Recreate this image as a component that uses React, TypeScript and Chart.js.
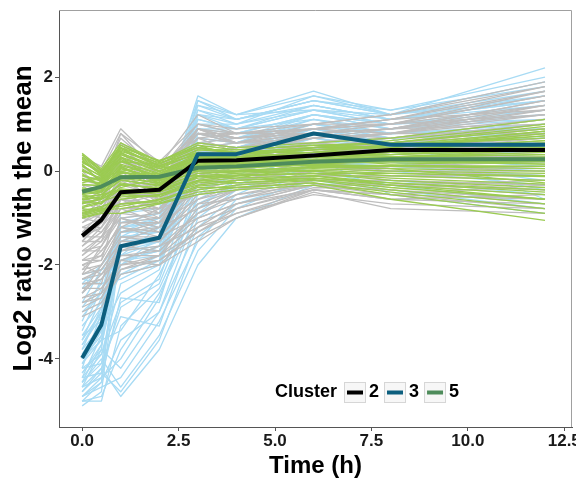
import React, { useEffect, useRef } from "react";
import { Chart, registerables } from "chart.js";

Chart.register(...registerables);

// ---- data ----
const times = [0, 0.5, 1, 2, 3, 4, 6, 8, 12];
const xTicks = [0, 2.5, 5, 7.5, 10, 12.5];
const yTicks = [-4, -2, 0, 2];
const clusterNames = ["2", "3", "5"];

const mean2 = [-1.38, -1.04, -0.45, -0.4, 0.22, 0.23, 0.33, 0.45, 0.45];
const mean3 = [-3.98, -3.27, -1.6, -1.42, 0.36, 0.36, 0.8, 0.56, 0.56];
const mean5 = [-0.44, -0.33, -0.13, -0.12, 0.07, 0.1, 0.2, 0.25, 0.25];

const genes2 = [
  [0.3, 0.1, 0.9, 0.1, 1.2, 0.8, 1.0, 1.2, 1.9],
  [0.1, -0.2, 0.7, 0.0, 1.0, 0.8, 0.9, 1.1, 1.7],
  [-0.2, -0.3, 0.5, -0.1, 0.9, 0.7, 0.9, 1.0, 1.6],
  [-0.4, -0.5, 0.4, -0.2, 0.8, 0.6, 0.8, 0.9, 1.5],
  [-0.5, -0.3, 0.2, 0.1, 0.7, 0.8, 0.8, 0.9, 1.4],
  [-0.7, -0.6, 0.1, -0.3, 0.7, 0.6, 0.9, 1.1, 1.3],
  [-0.8, -0.5, 0.0, -0.2, 0.6, 0.5, 0.7, 0.8, 1.2],
  [-0.9, -0.8, -0.1, -0.4, 0.5, 0.6, 0.6, 0.8, 1.1],
  [-1.0, -0.7, -0.2, -0.1, 0.4, 0.4, 0.8, 0.7, 1.0],
  [-1.1, -0.9, -0.3, -0.5, 0.3, 0.5, 0.5, 0.7, 0.9],
  [-1.2, -1.0, -0.3, -0.3, 0.5, 0.3, 0.4, 0.6, 0.8],
  [-1.3, -0.9, -0.4, -0.6, 0.2, 0.2, 0.6, 0.5, 0.7],
  [-1.4, -1.2, -0.5, -0.4, 0.1, 0.3, 0.3, 0.5, 0.6],
  [-1.5, -1.1, -0.6, -0.7, 0.3, 0.1, 0.2, 0.4, 0.5],
  [-1.6, -1.3, -0.7, -0.5, 0.0, 0.0, 0.4, 0.3, 0.4],
  [-1.7, -1.4, -0.8, -0.8, -0.1, 0.2, 0.1, 0.3, 0.3],
  [-1.8, -1.5, -0.9, -0.6, -0.2, -0.1, 0.2, 0.2, 0.2],
  [-1.9, -1.6, -1.0, -0.9, -0.3, 0.0, 0.0, 0.1, 0.1],
  [-2.0, -1.8, -1.1, -1.0, -0.4, -0.2, 0.1, 0.0, 0.0],
  [-2.1, -1.7, -1.2, -0.8, -0.5, -0.3, -0.1, -0.1, -0.2],
  [-2.2, -2.0, -1.3, -1.1, -0.6, -0.4, -0.2, -0.2, -0.3],
  [-2.3, -2.1, -1.5, -1.2, -0.8, -0.5, -0.3, -0.3, -0.5],
  [-2.5, -2.3, -1.7, -1.4, -1.0, -0.7, -0.4, -0.5, -0.6],
  [-2.7, -2.5, -1.9, -1.6, -1.2, -0.9, -0.5, -0.7, -0.8],
  [-3.0, -2.8, -2.2, -2.0, -1.5, -1.0, -0.45, -0.8, -0.9],
  [0.0, -0.4, 0.8, 0.2, 1.0, 0.9, 1.0, 1.2, 1.8],
  [-0.3, -0.6, 0.6, -0.4, 0.9, 0.6, 1.0, 1.0, 1.2],
  [-0.6, -0.9, 0.3, -0.5, 0.6, 0.7, 0.8, 0.9, 1.0],
  [-1.0, -1.1, -0.1, -0.7, 0.4, 0.2, 0.5, 0.4, 0.6],
  [-1.5, -1.5, -0.4, -0.9, 0.2, 0.4, 0.3, 0.5, 0.4],
  [-1.9, -1.9, -0.6, -1.0, -0.1, 0.1, 0.2, 0.0, -0.1],
  [-2.4, -2.4, -1.0, -1.3, -0.3, -0.2, 0.0, -0.2, -0.4],
  [-2.8, -2.6, -1.4, -1.5, -0.7, -0.6, -0.3, -0.4, -0.7],
  [-2.6, -2.2, -1.8, -1.8, -1.3, -0.8, -0.4, -0.6, -0.5],
  [-1.2, -1.3, -0.8, -1.1, 0.0, -0.2, 0.1, 0.3, 0.2],
  [-0.8, -1.0, -0.5, -0.8, 0.2, 0.1, 0.4, 0.6, 0.5],
  [-2.0, -2.2, -1.6, -1.7, -0.9, -0.6, -0.2, -0.3, -0.2],
  [-0.5, -0.8, -0.2, -0.6, 0.5, 0.4, 0.7, 0.8, 0.8],
  [-1.7, -1.7, -1.2, -1.4, -0.5, -0.4, -0.1, 0.1, 0.0],
  [-2.9, -2.7, -2.0, -1.9, -1.4, -1.0, -0.4, -0.5, -0.3],
  [0.2, 0.0, 0.8, -0.1, 0.9, 0.8, 0.9, 1.1, 1.8],
  [-0.1, -0.3, 0.6, 0.1, 0.8, 0.7, 0.9, 1.0, 1.7],
  [-0.3, -0.4, 0.4, -0.3, 0.9, 0.7, 0.8, 1.0, 1.6],
  [-0.6, -0.7, 0.2, -0.2, 0.8, 0.8, 0.9, 1.0, 1.4],
  [-0.7, -0.4, 0.3, -0.4, 0.9, 0.6, 0.7, 0.9, 1.3],
  [-0.9, -1.0, 0.0, -0.6, 0.6, 0.5, 0.8, 0.9, 1.2],
  [-1.1, -0.8, -0.2, -0.3, 0.7, 0.4, 0.6, 0.7, 1.1],
  [-1.2, -1.2, -0.4, -0.7, 0.3, 0.4, 0.5, 0.6, 1.0],
  [-1.3, -1.1, -0.5, -0.5, 0.4, 0.3, 0.5, 0.6, 0.9],
  [-1.4, -1.4, -0.6, -0.8, 0.1, 0.2, 0.4, 0.5, 0.8],
  [-1.6, -1.2, -0.7, -0.9, 0.2, 0.1, 0.3, 0.4, 0.7],
  [-1.7, -1.6, -0.9, -1.0, 0.0, 0.0, 0.3, 0.4, 0.6],
  [-1.8, -1.4, -1.0, -1.2, -0.2, 0.1, 0.2, 0.2, 0.5],
  [-1.9, -1.8, -1.1, -1.1, -0.3, -0.1, 0.1, 0.3, 0.3],
  [-2.0, -1.9, -1.2, -1.3, -0.4, -0.2, 0.0, 0.1, 0.2],
  [-2.1, -2.0, -1.4, -1.4, -0.6, -0.3, -0.1, 0.0, 0.1],
  [-2.2, -2.1, -1.5, -1.5, -0.7, -0.4, -0.1, -0.1, -0.1],
  [-2.3, -2.2, -1.7, -1.6, -0.9, -0.5, -0.2, -0.2, -0.3],
  [-2.4, -2.3, -1.8, -1.7, -1.0, -0.7, -0.3, -0.3, -0.4],
  [-2.5, -2.5, -2.0, -1.8, -1.1, -0.8, -0.35, -0.4, -0.6],
  [-2.7, -2.6, -2.1, -1.9, -1.3, -0.9, -0.4, -0.6, -0.7],
  [-2.8, -2.7, -1.9, -2.0, -1.2, -0.7, -0.3, -0.5, -0.8],
  [-0.2, -0.1, 0.3, -0.2, 0.8, 0.6, 0.8, 0.9, 1.5],
  [-1.0, -0.6, 0.1, 0.0, 0.9, 0.7, 0.9, 0.8, 1.4],
  [-1.5, -1.0, -0.3, -0.2, 0.6, 0.5, 0.7, 0.8, 1.3],
  [-2.2, -1.6, -0.8, -0.7, 0.3, 0.3, 0.6, 0.7, 1.1],
  [-2.6, -2.0, -1.3, -1.2, 0.1, 0.2, 0.5, 0.6, 0.9],
  [-3.1, -2.9, -2.1, -1.8, -0.8, -0.4, 0.0, 0.1, 0.3],
];

const genes3 = [
  [-4.9, -4.5, -1.2, -1.0, 1.6, 1.2, 1.7, 1.2, 2.2],
  [-4.6, -3.8, -1.0, -0.9, 1.4, 1.1, 1.5, 1.3, 1.8],
  [-4.4, -3.5, -1.3, -1.2, 1.2, 0.9, 1.4, 1.1, 1.5],
  [-4.2, -3.0, -1.5, -1.1, 1.0, 1.0, 1.3, 1.0, 1.2],
  [-4.0, -3.3, -1.4, -1.3, 0.9, 0.8, 1.2, 0.9, 1.1],
  [-3.8, -2.9, -1.6, -1.4, 0.8, 0.7, 1.1, 0.8, 0.9],
  [-3.6, -2.7, -1.8, -1.2, 0.7, 0.6, 1.0, 0.7, 0.8],
  [-3.4, -2.5, -1.7, -1.5, 0.6, 0.5, 0.9, 0.6, 0.6],
  [-3.2, -2.3, -1.9, -1.6, 0.5, 0.4, 0.8, 0.5, 0.5],
  [-3.0, -2.6, -2.0, -1.4, 0.3, 0.3, 0.7, 0.4, 0.3],
  [-2.8, -2.1, -1.6, -1.7, 0.2, 0.2, 0.6, 0.3, 0.2],
  [-2.5, -2.0, -1.3, -1.3, 0.0, 0.1, 0.5, 0.2, 0.0],
  [-2.3, -2.4, -2.2, -1.8, -0.3, 0.0, 0.4, 0.2, -0.2],
  [-4.7, -4.2, -4.8, -3.8, -2.0, -1.0, -0.3, -0.2, -0.5],
  [-4.5, -4.0, -4.6, -3.5, -1.7, -0.8, -0.1, 0.0, -0.3],
  [-4.8, -4.6, -4.4, -3.2, -1.5, -0.6, 0.0, -0.3, -0.7],
  [-4.3, -3.8, -4.2, -3.0, -1.2, -0.5, 0.2, 0.1, -0.1],
  [-4.9, -4.8, -3.8, -2.6, -0.9, -0.3, 0.3, -0.5, -0.9],
  [-4.1, -3.6, -3.4, -2.2, -0.6, -0.2, 0.4, 0.3, 0.1],
  [-4.6, -4.2, -2.9, -2.4, -0.4, -0.1, 0.6, 0.4, 0.4],
  [-4.4, -3.9, -2.4, -2.0, 0.1, 0.2, 0.8, 0.6, 0.7],
  [-3.9, -3.4, -2.6, -2.1, 0.4, 0.4, 0.9, 0.7, 1.0],
  [-3.7, -3.1, -2.1, -1.9, 0.8, 0.6, 1.2, 0.9, 1.3],
  [-4.0, -3.6, -1.1, -1.0, 1.3, 1.0, 1.6, 1.2, 1.6],
  [-3.5, -3.2, -0.9, -0.8, 1.5, 1.1, 1.4, 1.1, 1.4],
  [-4.8, -4.4, -2.7, -2.8, -0.2, 0.3, 0.7, 0.5, 0.6],
  [-4.2, -4.1, -3.1, -3.3, -1.0, -0.4, 0.1, 0.2, 0.2],
  [-3.3, -2.8, -1.4, -1.0, 1.1, 0.9, 1.3, 1.0, 1.1],
  [-2.6, -2.2, -1.8, -1.5, 0.6, 0.5, 1.0, 0.8, 0.9],
  [-4.5, -3.7, -1.9, -1.7, 0.3, 0.4, 0.9, 0.6, 0.4],
  [-5.0, -4.7, -1.6, -1.5, 1.5, 1.2, 1.6, 1.3, 2.0],
  [-4.7, -4.3, -1.4, -1.3, 1.3, 1.1, 1.5, 1.2, 1.7],
  [-4.5, -4.1, -1.7, -1.6, 1.2, 1.0, 1.4, 1.1, 1.6],
  [-4.3, -3.7, -1.2, -1.1, 1.1, 0.9, 1.3, 1.1, 1.5],
  [-4.1, -3.4, -1.9, -1.8, 1.0, 0.8, 1.2, 1.0, 1.4],
  [-3.9, -3.2, -1.5, -1.2, 0.9, 0.9, 1.1, 0.9, 1.2],
  [-3.7, -3.0, -2.2, -2.0, 0.7, 0.6, 1.0, 0.8, 1.0],
  [-3.5, -2.9, -1.2, -1.1, 0.6, 0.7, 1.0, 0.7, 0.8],
  [-3.1, -2.6, -1.0, -1.2, 0.4, 0.5, 0.9, 0.6, 0.7],
  [-2.9, -2.4, -2.3, -1.9, 0.2, 0.3, 0.8, 0.5, 0.5],
  [-4.8, -4.5, -3.6, -3.0, -0.8, -0.2, 0.4, 0.3, 0.2],
  [-4.6, -4.4, -4.0, -2.7, -0.5, 0.0, 0.5, 0.4, 0.3],
  [-4.4, -4.3, -4.7, -3.6, -1.4, -0.7, -0.2, -0.4, -0.8],
  [-4.9, -4.9, -3.3, -2.5, -0.7, -0.3, 0.3, 0.2, -0.4],
  [-4.2, -3.9, -2.8, -2.3, 0.0, 0.2, 0.7, 0.5, 0.5],
  [-4.0, -3.5, -2.0, -1.6, 0.5, 0.6, 1.1, 0.8, 0.9],
  [-3.8, -3.3, -1.3, -1.0, 1.2, 1.1, 1.5, 1.2, 1.5],
  [-3.6, -3.0, -1.1, -0.9, 1.4, 1.2, 1.3, 1.2, 1.9],
  [-2.4, -2.0, -1.5, -1.4, 0.8, 0.7, 1.2, 1.0, 1.3],
  [-2.2, -2.1, -1.9, -1.7, 0.4, 0.5, 0.9, 0.7, -0.6],
];

const genes5 = [
  [0.38, 0.05, 0.6, 0.2, 0.6, 0.5, 0.6, 0.7, 1.1],
  [0.3, 0.0, 0.5, 0.23, 0.5, 0.4, 0.5, 0.6, 0.9],
  [0.2, -0.05, 0.45, 0.1, 0.45, 0.45, 0.55, 0.5, 0.8],
  [0.1, -0.1, 0.35, 0.05, 0.4, 0.35, 0.45, 0.55, 0.7],
  [0.0, -0.15, 0.3, 0.0, 0.35, 0.3, 0.4, 0.45, 0.6],
  [-0.1, -0.2, 0.2, -0.05, 0.3, 0.3, 0.35, 0.4, 0.5],
  [-0.2, -0.25, 0.15, -0.1, 0.25, 0.25, 0.3, 0.35, 0.45],
  [-0.3, -0.3, 0.05, -0.15, 0.2, 0.2, 0.3, 0.3, 0.4],
  [-0.4, -0.35, 0.0, -0.2, 0.15, 0.15, 0.25, 0.25, 0.3],
  [-0.45, -0.4, -0.1, -0.1, 0.1, 0.1, 0.2, 0.2, 0.25],
  [-0.5, -0.45, -0.15, -0.25, 0.05, 0.05, 0.15, 0.2, 0.15],
  [-0.55, -0.5, -0.2, -0.3, 0.0, 0.0, 0.1, 0.1, 0.05],
  [-0.6, -0.55, -0.3, -0.35, -0.05, 0.0, 0.05, 0.0, -0.05],
  [-0.7, -0.6, -0.4, -0.4, -0.1, -0.05, 0.0, -0.1, -0.2],
  [-0.75, -0.65, -0.5, -0.45, -0.2, -0.1, -0.05, -0.2, -0.35],
  [-0.85, -0.75, -0.6, -0.5, -0.3, -0.2, -0.1, -0.3, -0.5],
  [-0.9, -0.8, -0.75, -0.6, -0.4, -0.3, -0.2, -0.4, -0.7],
  [-1.0, -0.9, -0.9, -0.7, -0.5, -0.4, -0.3, -0.6, -1.05],
  [0.25, -0.1, 0.55, 0.15, 0.5, 0.4, 0.45, 0.55, 0.75],
  [0.05, -0.2, 0.4, 0.0, 0.3, 0.25, 0.35, 0.35, 0.55],
  [-0.15, -0.3, 0.25, -0.2, 0.2, 0.15, 0.2, 0.3, 0.35],
  [-0.35, -0.45, 0.1, -0.25, 0.1, 0.1, 0.15, 0.1, 0.1],
  [-0.65, -0.7, -0.25, -0.4, -0.15, -0.1, -0.05, -0.05, -0.1],
  [-0.8, -0.85, -0.5, -0.55, -0.25, -0.2, -0.15, -0.25, -0.4],
  [-0.95, -0.85, -0.7, -0.65, -0.35, -0.35, -0.25, -0.45, -0.8],
  [0.15, -0.25, 0.3, -0.3, 0.15, 0.2, 0.3, 0.45, 0.65],
  [-0.25, -0.15, 0.0, 0.1, 0.0, 0.25, 0.25, 0.15, 0.2],
  [-0.5, -0.6, -0.35, -0.15, -0.1, -0.15, 0.1, 0.05, -0.25],
  [0.35, 0.02, 0.2, 0.15, 0.55, 0.3, 0.5, 0.65, 1.0],
  [-0.05, -0.35, -0.05, -0.05, 0.25, 0.2, 0.25, 0.25, 0.15],
  [0.35, 0.0, 0.55, 0.2, 0.55, 0.45, 0.55, 0.6, 0.95],
  [0.28, -0.05, 0.5, 0.1, 0.45, 0.4, 0.5, 0.5, 0.85],
  [0.22, -0.08, 0.42, 0.18, 0.4, 0.35, 0.45, 0.5, 0.75],
  [0.12, -0.12, 0.38, 0.08, 0.38, 0.3, 0.4, 0.45, 0.65],
  [0.02, -0.18, 0.28, -0.02, 0.32, 0.28, 0.35, 0.4, 0.55],
  [-0.08, -0.22, 0.22, -0.08, 0.28, 0.22, 0.3, 0.35, 0.45],
  [-0.18, -0.28, 0.12, -0.12, 0.22, 0.18, 0.25, 0.3, 0.35],
  [-0.28, -0.32, 0.08, -0.18, 0.18, 0.15, 0.22, 0.25, 0.28],
  [-0.38, -0.38, -0.02, -0.22, 0.12, 0.12, 0.18, 0.2, 0.2],
  [-0.48, -0.42, -0.08, -0.28, 0.08, 0.08, 0.12, 0.12, 0.1],
  [-0.58, -0.5, -0.18, -0.32, 0.02, 0.02, 0.08, 0.05, 0.0],
  [-0.68, -0.58, -0.28, -0.38, -0.05, -0.02, 0.02, -0.05, -0.12],
  [-0.78, -0.68, -0.38, -0.45, -0.12, -0.08, -0.05, -0.15, -0.28],
  [-0.88, -0.78, -0.55, -0.52, -0.22, -0.15, -0.1, -0.25, -0.45],
  [-0.98, -0.88, -0.7, -0.62, -0.32, -0.25, -0.18, -0.35, -0.6],
  [-0.92, -0.82, -0.8, -0.68, -0.45, -0.35, -0.25, -0.5, -0.9],
  [-0.4, -0.5, -0.4, -0.5, -0.2, -0.25, -0.15, -0.3, -0.6],
  [0.18, -0.02, 0.48, 0.12, 0.35, 0.4, 0.4, 0.55, 0.85],
  [-0.2, -0.15, 0.35, 0.05, 0.2, 0.3, 0.3, 0.4, 0.5],
  [-0.62, -0.55, 0.05, -0.2, 0.05, 0.1, 0.2, 0.3, 0.45],
];

// ---- styles ----
const FONT = '"Liberation Sans", Arial, Helvetica, sans-serif';
const thinColors = ["#bebebe", "#a8dbf4", "#9bcb52"];
const meanColors = ["#000000", "#0d5f7e", "#4e8c5b"];

const toPts = (vals: number[]) => times.map((t, i) => ({ x: t, y: vals[i] }));

const framePlugin = {
  id: "frame",
  beforeDatasetsDraw(chart: any) {
    const { ctx, chartArea } = chart;
    const { left, top, right, bottom } = chartArea;
    ctx.save();
    ctx.strokeStyle = "#a0a0a0";
    ctx.lineWidth = 1;
    ctx.beginPath();
    ctx.moveTo(left, top + 0.5);
    ctx.lineTo(right - 0.5, top + 0.5);
    ctx.lineTo(right - 0.5, bottom);
    ctx.stroke();
    ctx.restore();
  },
};

const legendPlugin = {
  id: "clusterLegend",
  afterDraw(chart: any) {
    const ctx = chart.ctx;
    ctx.save();
    ctx.font = `bold 18px ${FONT}`;
    ctx.textBaseline = "middle";
    ctx.textAlign = "left";
    const cy = 392;
    let x = 275;
    ctx.fillStyle = "#000";
    ctx.fillText("Cluster", x, cy);
    x += ctx.measureText("Cluster").width + 7;
    clusterNames.forEach((name, i) => {
      ctx.fillStyle = "#f7f7f7";
      ctx.fillRect(x, cy - 10, 22, 21);
      ctx.strokeStyle = "#d6d6d6";
      ctx.lineWidth = 1;
      ctx.strokeRect(x + 0.5, cy - 9.5, 21, 20);
      ctx.strokeStyle = meanColors[i];
      ctx.lineWidth = 4;
      ctx.beginPath();
      ctx.moveTo(x + 3, cy + 0.5);
      ctx.lineTo(x + 19, cy + 0.5);
      ctx.stroke();
      x += 22 + 3;
      ctx.fillStyle = "#000";
      ctx.fillText(name, x, cy);
      x += ctx.measureText(name).width + 5;
    });
    ctx.restore();
  },
};

export default function App() {
  const canvasRef = useRef<HTMLCanvasElement | null>(null);

  useEffect(() => {
    const canvas = canvasRef.current;
    if (!canvas) return;

    const thin = (arr: number[][], color: string, order: number) =>
      arr.map((v) => ({
        data: toPts(v),
        borderColor: color,
        borderWidth: 1.3,
        pointRadius: 0,
        fill: false,
        order,
      }));

    // lower order is drawn on top: blue thin at the bottom, then gray, then green
    const datasets: any[] = [
      ...thin(genes3, thinColors[1], 5),
      ...thin(genes2, thinColors[0], 4),
      ...thin(genes5, thinColors[2], 3),
      { data: toPts(mean5), borderColor: meanColors[2], borderWidth: 4, pointRadius: 0, fill: false, order: 2 },
      { data: toPts(mean2), borderColor: meanColors[0], borderWidth: 4, pointRadius: 0, fill: false, order: 1 },
      { data: toPts(mean3), borderColor: meanColors[1], borderWidth: 4, pointRadius: 0, fill: false, order: 0 },
    ];

    const chart = new Chart(canvas, {
      type: "line",
      data: { datasets },
      options: {
        animation: false,
        responsive: false,
        devicePixelRatio: 1,
        layout: { padding: { top: 10, right: 4, left: 0, bottom: 0 } },
        plugins: { legend: { display: false }, tooltip: { enabled: false } },
        elements: { line: { tension: 0, borderCapStyle: "butt", borderJoinStyle: "round" } },
        scales: {
          x: {
            type: "linear",
            min: -0.6,
            max: 12.7,
            afterBuildTicks: (s: any) => {
              s.ticks = xTicks.map((v) => ({ value: v }));
            },
            afterFit: (s: any) => {
              s.height = 51;
              s.paddingLeft = 0;
              s.paddingRight = 0;
            },
            ticks: {
              callback: (v: any) => Number(v).toFixed(1),
              font: { family: FONT, size: 17, weight: "bold" },
              color: "#1a1a1a",
              padding: 0,
              maxRotation: 0,
              autoSkip: false,
            },
            grid: { drawOnChartArea: false, drawTicks: true, tickLength: 4, color: "#555" },
            border: { display: true, color: "#555", width: 1 },
            title: {
              display: true,
              text: "Time (h)",
              color: "#000",
              font: { family: FONT, size: 24, weight: "bold", lineHeight: 1 },
              padding: { top: 0, bottom: 0 },
            },
          },
          y: {
            type: "linear",
            min: -5.45,
            max: 3.43,
            afterBuildTicks: (s: any) => {
              s.ticks = yTicks.map((v) => ({ value: v }));
            },
            afterFit: (s: any) => {
              s.width = 59;
              s.paddingTop = 0;
              s.paddingBottom = 0;
            },
            ticks: {
              callback: (v: any) => String(v),
              font: { family: FONT, size: 17, weight: "bold" },
              color: "#1a1a1a",
              padding: 2,
              autoSkip: false,
            },
            grid: { drawOnChartArea: false, drawTicks: true, tickLength: 4, color: "#555" },
            border: { display: true, color: "#555", width: 1 },
            title: {
              display: true,
              text: "Log2 ratio with the mean",
              color: "#000",
              font: { family: FONT, size: 26, weight: "bold", lineHeight: 1 },
              padding: { top: 11, bottom: 0 },
            },
          },
        },
      } as any,
      plugins: [framePlugin, legendPlugin],
    });

    return () => chart.destroy();
  }, []);

  return (
    <div style={{ position: "fixed", left: 0, top: 0, width: 576, height: 478, background: "#fff" }}>
      <canvas ref={canvasRef} width={576} height={478} style={{ display: "block" }} />
    </div>
  );
}
